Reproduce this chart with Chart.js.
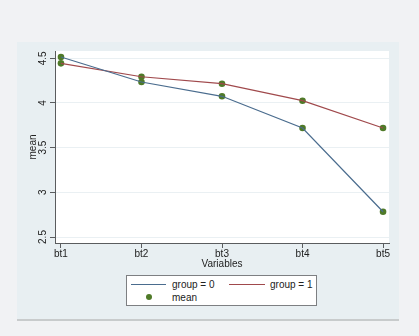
<!DOCTYPE html>
<html>
<head>
<meta charset="utf-8">
<script src="https://cdn.jsdelivr.net/npm/chart.js@4"></script>
<style>
  body { margin: 0; background: #f1f2f4; }
  #wrap { position: relative; width: 419px; height: 336px; }
  #legend {
    position: absolute; left: 126px; top: 275px; width: 189px; height: 29px;
    background: #fff; border: 1px solid #7d7f82;
    font: 10px "Liberation Sans", Arial, sans-serif; color: #222;
  }
  #legend .it { position: absolute; line-height: 12px; }
  #legend .ln { position: absolute; height: 1px; }
  #legend .dot { position: absolute; width: 6px; height: 6px; border-radius: 50%; background: #4f7a28; }
</style>
</head>
<body>
<div id="wrap">
  <canvas id="myChart" width="419" height="336"></canvas>
  <div id="legend">
    <div class="ln" style="left:4px;top:8px;width:35px;background:#4a6c8e"></div>
    <div class="it" style="left:45px;top:3px">group = 0</div>
    <div class="ln" style="left:102px;top:8px;width:36px;background:#a0494c"></div>
    <div class="it" style="left:143px;top:3px">group = 1</div>
    <div class="dot" style="left:19px;top:18px"></div>
    <div class="it" style="left:45px;top:16px">mean</div>
  </div>
</div>
<script>
const categorias = ["bt1", "bt2", "bt3", "bt4", "bt5"];
const grupo0 = [4.515, 4.235, 4.075, 3.72, 2.783];
const grupo1 = [4.444, 4.294, 4.216, 4.026, 3.72];
const ticksY = [2.5, 3, 3.5, 4, 4.5];

const fuente = { family: "'Liberation Sans', Arial, sans-serif", size: 10 };
const colorTexto = "#222";
const colorEje = "#5a5c5e";

const aPuntos = (valores) => valores.map((v, i) => ({ x: i + 1, y: v }));

// fondo de la pagina, el panel y el area blanca
const fondo = {
  id: "fondo",
  beforeDraw(chart) {
    const c = chart.ctx;
    const a = chart.chartArea;
    c.save();
    c.fillStyle = "#f1f2f4";
    c.fillRect(0, 0, chart.width, chart.height);
    c.fillStyle = "#e8eff2";
    c.fillRect(17, 42, 382, 277);
    c.fillStyle = "#c8cbcc";
    c.fillRect(17, 319, 382, 2);
    c.fillStyle = "#fff";
    c.fillRect(a.left, a.top, a.right - a.left, a.bottom - a.top);
    c.restore();
  },
};

const config = {
  type: "line",
  data: {
    datasets: [
      {
        label: "group = 0",
        data: aPuntos(grupo0),
        borderColor: "#4a6c8e",
        borderWidth: 1.2,
        pointRadius: 0,
        tension: 0,
      },
      {
        label: "group = 1",
        data: aPuntos(grupo1),
        borderColor: "#a0494c",
        borderWidth: 1.2,
        pointRadius: 0,
        tension: 0,
      },
      {
        label: "mean",
        data: aPuntos(grupo0).concat(aPuntos(grupo1)),
        showLine: false,
        pointRadius: 3.3,
        pointBackgroundColor: "#4f7a28",
        pointBorderColor: "#4f7a28",
        pointBorderWidth: 0,
      },
    ],
  },
  options: {
    responsive: false,
    animation: false,
    layout: { padding: { top: 51, right: 30, left: 27, bottom: 66 } },
    plugins: { legend: { display: false }, tooltip: { enabled: false } },
    scales: {
      x: {
        type: "linear",
        min: 0.926,
        max: 5.074,
        afterBuildTicks: (s) => { s.ticks = categorias.map((c, i) => ({ value: i + 1 })); },
        afterFit: (s) => { s.height = 27; },
        ticks: {
          font: fuente,
          color: colorTexto,
          padding: 0,
          maxRotation: 0,
          callback: (v) => categorias[v - 1],
        },
        grid: { drawOnChartArea: false, tickColor: colorEje, tickLength: 5 },
        border: { color: colorEje },
        title: { display: true, text: "Variables", font: fuente, color: colorTexto, padding: { top: 0, bottom: 0 } },
      },
      y: {
        type: "linear",
        min: 2.433,
        max: 4.582,
        afterBuildTicks: (s) => { s.ticks = ticksY.map((v) => ({ value: v })); },
        afterFit: (s) => { s.width = 28; },
        ticks: {
          font: fuente,
          color: colorTexto,
          padding: 0,
          minRotation: 90,
          maxRotation: 90,
          crossAlign: "center",
          callback: (v) => String(v),
        },
        grid: { color: "#eaf0f3", tickColor: colorEje, tickLength: 5 },
        border: { color: colorEje },
        title: { display: true, text: "mean", font: fuente, color: colorTexto, padding: { top: 0, bottom: 0 } },
      },
    },
  },
  plugins: [fondo],
};

new Chart(document.getElementById("myChart"), config);
</script>
</body>
</html>
